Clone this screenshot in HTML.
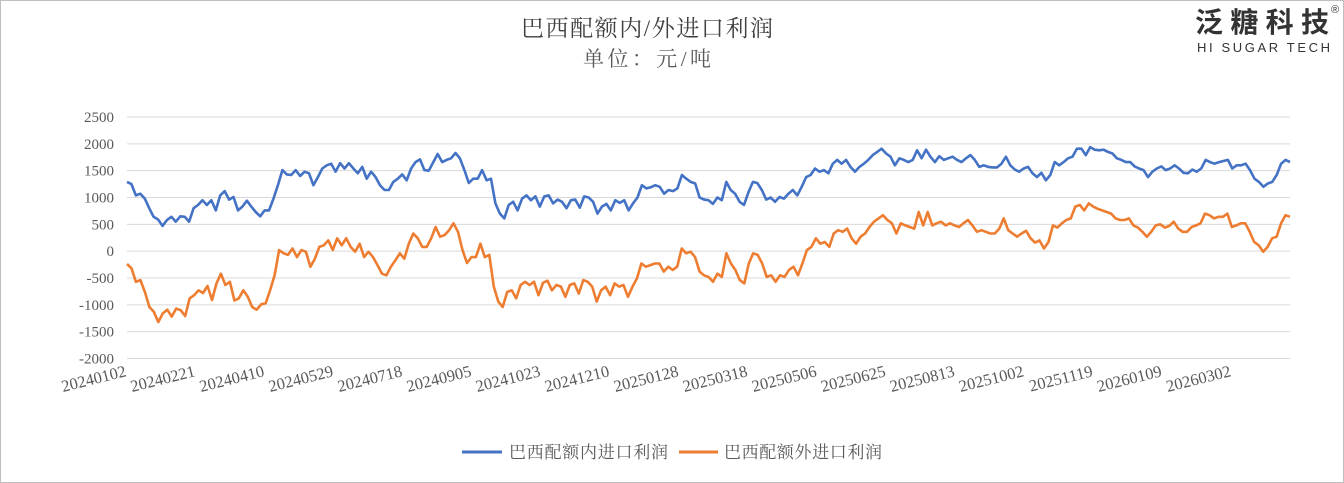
<!DOCTYPE html>
<html><head><meta charset="utf-8"><style>
html,body{margin:0;padding:0;background:#fff}
#wrap{position:relative;width:1344px;height:483px;overflow:hidden}
svg text{font-family:"Liberation Serif","Noto Serif CJK SC",serif}
</style></head><body>
<div id="wrap">
<svg id="chart" width="1344" height="483" viewBox="0 0 1344 483">
<rect x="0.5" y="0.5" width="1343" height="482" fill="#fff" stroke="#bfbfbf"/>
<text x="647" y="36" text-anchor="middle" font-size="23" textLength="252" fill="#404040">巴西配额内/外进口利润</text>
<text x="647" y="66" text-anchor="middle" font-size="21" textLength="128" fill="#595959">单位：元/吨</text>
<g>
<text x="1195" y="32" font-size="28" textLength="134" font-weight="bold" fill="#333" style='font-family:"Noto Sans CJK SC",sans-serif'>泛糖科技</text>
<text x="1331" y="13" font-size="11" fill="#333" style='font-family:"Liberation Sans",sans-serif'>®</text>
<text x="1197" y="52" font-size="13" textLength="133" fill="#333" style='font-family:"Liberation Sans",sans-serif'>HI SUGAR TECH</text>
</g>
<g id="grid"></g><g id="yaxis"></g><g id="xaxis"></g><g id="series"></g>
<g>
<g><line x1="462" y1="452" x2="502" y2="452" stroke="#4472c4" stroke-width="3"/><text x="509" y="458" font-size="17" textLength="159" fill="#595959">巴西配额内进口利润</text></g>
<g><line x1="679" y1="452" x2="718" y2="452" stroke="#ed7d31" stroke-width="3"/><text x="724" y="458" font-size="17" textLength="158" fill="#595959">巴西配额外进口利润</text></g>
</g>
</svg></div>
<script>
const yTicks=[2500,2000,1500,1000,500,0,-500,-1000,-1500,-2000];
const xLabels=["20240102","20240221","20240410","20240529","20240718","20240905","20241023","20241210","20250128","20250318","20250506","20250625","20250813","20251002","20251119","20260109","20260302"];
const totalCategories=540;
const labelEvery=32;
const innerSeries=[1290,1250,1040,1070,980,800,640,590,470,580,640,550,650,640,550,800,860,950,860,950,760,1040,1120,960,1010,760,830,940,830,730,650,760,760,980,1230,1510,1430,1420,1510,1400,1480,1450,1230,1380,1540,1600,1630,1480,1640,1540,1640,1540,1450,1570,1350,1480,1380,1230,1140,1140,1290,1350,1430,1320,1540,1660,1710,1510,1500,1660,1810,1660,1700,1730,1830,1730,1510,1270,1350,1350,1510,1320,1350,890,700,610,860,920,760,980,1040,
950,1020,830,1020,1040,890,960,920,800,950,960,810,1020,1000,920,700,830,880,760,950,900,950,760,890,1000,1230,1170,1190,1230,1200,1070,1140,1120,1170,1420,1350,1290,1260,1000,960,950,880,1000,950,1290,1140,1070,920,860,1100,1290,1270,1140,960,1000,920,1010,980,1070,1140,1040,1200,1380,1420,1540,1480,1510,1450,1630,1700,1630,1700,1570,1480,1570,1630,1700,1790,1850,1910,1820,1760,1600,1730,1700,1660,1700,1880,1730,
1890,1760,1660,1770,1700,1730,1760,1700,1660,1730,1790,1700,1570,1600,1570,1560,1560,1630,1760,1600,1520,1480,1540,1570,1450,1380,1460,1320,1420,1660,1600,1660,1730,1760,1910,1910,1790,1940,1890,1880,1890,1850,1820,1730,1700,1660,1660,1580,1540,1510,1380,1480,1540,1580,1510,1540,1600,1540,1460,1450,1520,1480,1540,1700,1660,1630,1660,1680,1700,1540,1600,1600,1630,1510,1350,1290,1200,1260,1290,1420,1630,1700,1660];
const outerSeries=[-240,-320,-570,-540,-760,-1040,-1130,-1320,-1160,-1090,-1220,-1070,-1100,-1210,-880,-820,-730,-780,-650,-910,-600,-420,-630,-570,-920,-880,-730,-850,-1040,-1090,-990,-970,-730,-450,20,-40,-70,50,-110,20,-10,-290,-140,80,110,200,20,240,110,240,80,-10,140,-110,-10,-110,-260,-420,-450,-290,-170,-40,-140,140,330,240,80,80,240,450,270,300,390,520,360,20,-220,-110,-110,140,-110,-70,-660,-940,-1040,-760,-730,-880,-630,-570,
-630,-570,-820,-590,-550,-730,-630,-660,-850,-630,-600,-790,-540,-570,-660,-940,-730,-660,-820,-600,-660,-630,-850,-660,-510,-230,-290,-260,-230,-230,-380,-290,-350,-290,50,-40,-10,-110,-380,-450,-480,-570,-420,-480,-40,-230,-350,-540,-600,-230,-40,-70,-230,-480,-450,-570,-450,-480,-350,-290,-450,-230,20,80,240,140,170,80,330,390,360,420,240,140,270,330,450,550,610,670,580,520,330,520,480,450,420,730,480,
730,480,520,550,480,520,480,450,520,580,480,360,390,360,330,330,420,610,390,330,270,330,380,240,160,200,50,170,480,440,520,580,610,830,860,760,890,830,790,760,730,700,610,580,580,610,480,440,360,270,360,480,500,440,470,550,420,360,360,450,480,520,700,670,610,640,640,700,450,480,520,520,360,170,110,-10,80,240,270,520,670,640];
const plotL=127,plotR=1290,yTop=117,yBot=358.5;
const yMax=2500,yMin=-2000;
function yScale(v){return yTop+(yMax-v)/(yMax-yMin)*(yBot-yTop);}
function xCat(c){return plotL+c/(totalCategories-1)*(plotR-plotL);}
const NS="http://www.w3.org/2000/svg";
const grid=document.getElementById('grid'),yaxis=document.getElementById('yaxis'),xaxis=document.getElementById('xaxis'),series=document.getElementById('series');
yTicks.forEach(t=>{
 const l=document.createElementNS(NS,'line');
 
 
 l.setAttribute('x1',plotL);l.setAttribute('x2',plotR);
 l.setAttribute('y1',yScale(t));l.setAttribute('y2',yScale(t));
 l.setAttribute('stroke','#d9d9d9');l.setAttribute('stroke-width','1');
 grid.appendChild(l);
 const tx=document.createElementNS(NS,'text');
 
 
 tx.setAttribute('x',114);tx.setAttribute('y',yScale(t)+5);
 tx.setAttribute('text-anchor','end');tx.setAttribute('font-size','15');tx.setAttribute('fill','#595959');
 tx.textContent=t;yaxis.appendChild(tx);
});
xLabels.forEach((s,k)=>{
 const x=xCat(k*labelEvery);
 const tx=document.createElementNS(NS,'text');
 
 
 tx.setAttribute('x',x);tx.setAttribute('y',376);
 tx.setAttribute('text-anchor','end');tx.setAttribute('font-size','16.5');tx.setAttribute('fill','#595959');
 tx.setAttribute('transform','rotate(-14 '+x+' 376)');
 tx.textContent=s;xaxis.appendChild(tx);
});
function drawSeries(arr,color,name){
 const n=arr.length;
 const pts=arr.map((v,i)=>xCat(i/(n-1)*(totalCategories-1)).toFixed(1)+','+yScale(v).toFixed(1)).join(' ');
 const p=document.createElementNS(NS,'polyline');
 
 
 p.setAttribute('points',pts);p.setAttribute('fill','none');p.setAttribute('stroke',color);
 p.setAttribute('stroke-width','2.6');p.setAttribute('stroke-linejoin','round');
 series.appendChild(p);
}
drawSeries(innerSeries,'#4472c4','inner-quota-profit-line');
drawSeries(outerSeries,'#ed7d31','outer-quota-profit-line');
</script>
</body></html>
